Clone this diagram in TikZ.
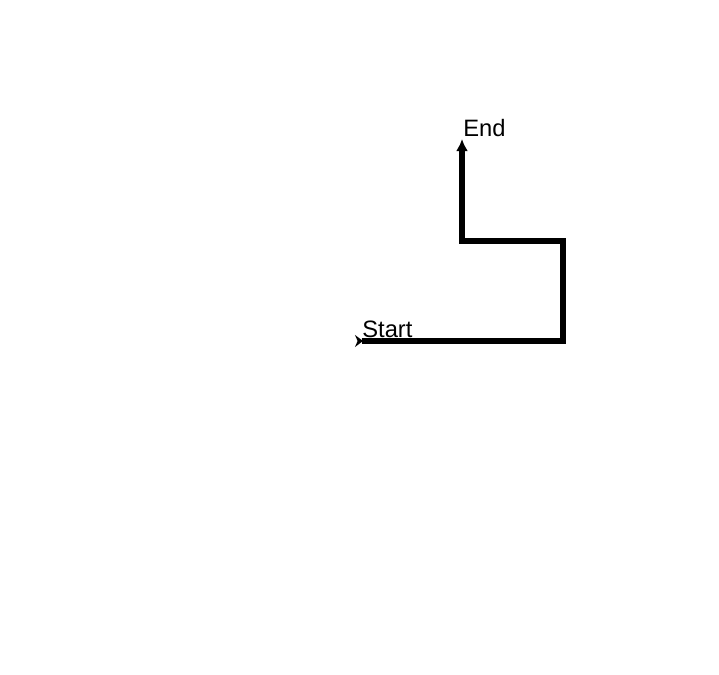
\documentclass[tikz,border=0pt]{standalone}
\usepackage{fontspec}
\setmainfont{Liberation Sans}
\usetikzlibrary{arrows.meta}

\begin{document}
\begin{tikzpicture}[x=0.5bp,y=-0.5bp,>=Stealth,font=\fontsize{11.9}{14}\selectfont,
  route/.style={line width=2.6bp,line join=miter},
  tag/.style={anchor=base west,inner sep=0pt}]
  \useasboundingbox (0,0) rectangle (719,675);
  % path corners
  \coordinate (start) at (355,341);
  \coordinate (c1) at (563,341);
  \coordinate (c2) at (563,241);
  \coordinate (c3) at (462,241);
  \coordinate (end) at (462,139);
  \draw[route,{Stealth[reversed,length=4bp,width=6bp]}-{Latex[length=6bp,width=6bp]}]
    (start) -- (c1) -- (c2) -- (c3) -- (end);
  \node[tag] (startlbl) at (362,337) {Start};
  \node[tag] (endlbl) at (463,137) {End};
\end{tikzpicture}
\end{document}
